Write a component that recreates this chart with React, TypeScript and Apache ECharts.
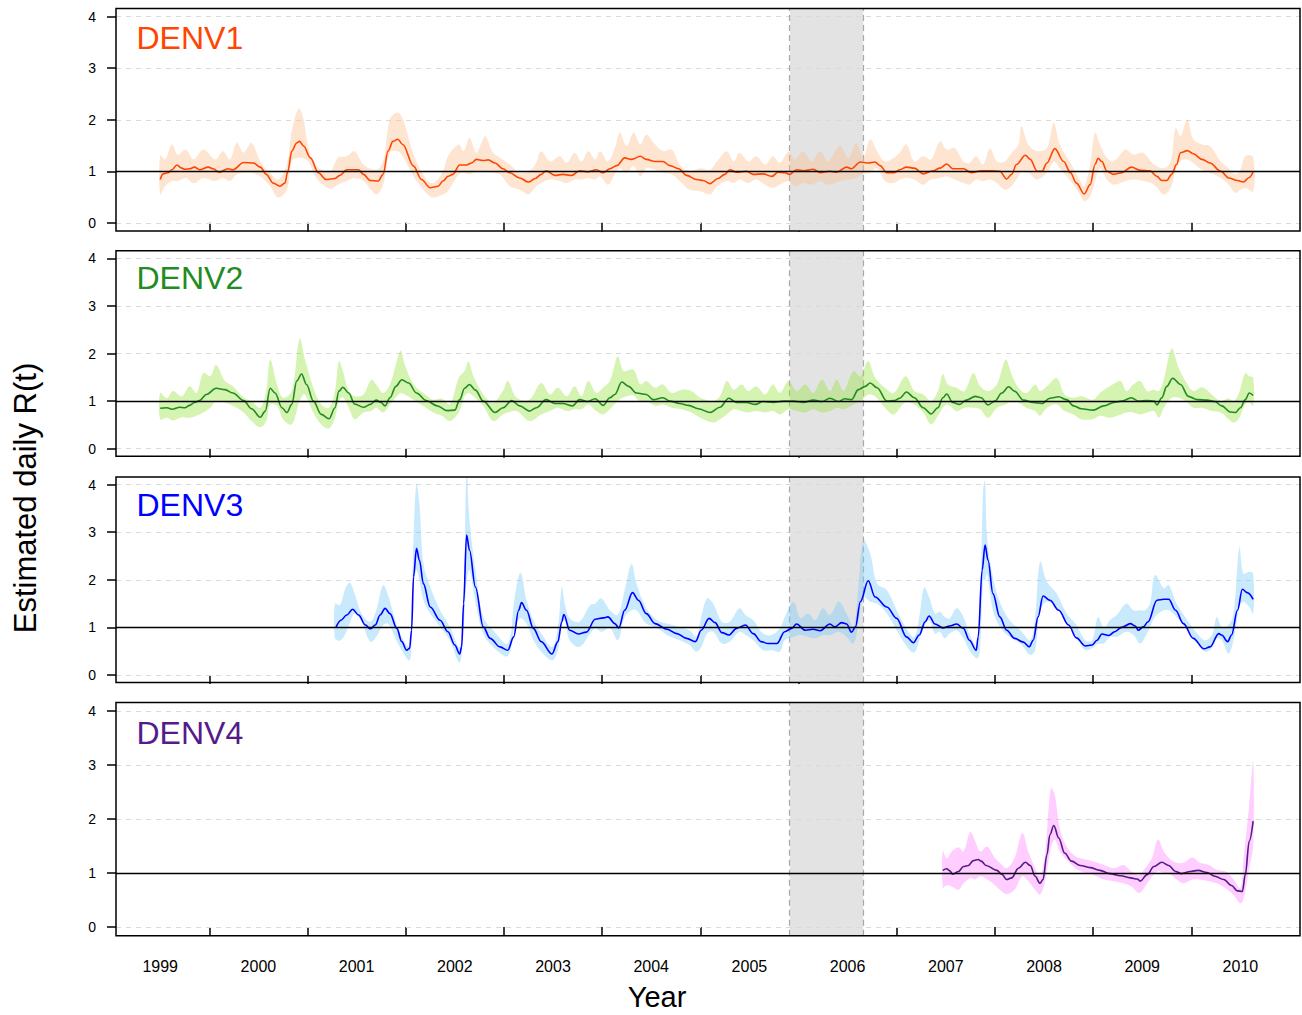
import React, { useEffect, useRef } from "react";
import * as echarts from "echarts";

type Pt = [number, number];
type Band = [number, number, number]; // [year, lower, upper]

// ---- axis values ----
const YEAR_TICKS = [2000, 2001, 2002, 2003, 2004, 2005, 2006, 2007, 2008, 2009, 2010];
const YEAR_LABEL_AT = [1999.5, 2000.5, 2001.5, 2002.5, 2003.5, 2004.5, 2005.5, 2006.5, 2007.5, 2008.5, 2009.5, 2010.5];
const R_TICKS = [0, 1, 2, 3, 4];
const R_GRID = [0, 2, 3, 4];
const THRESHOLD = 1;
const GAP_PERIOD: [number, number] = [2005.913, 2006.66];
const SEROTYPES = ["DENV1", "DENV2", "DENV3", "DENV4"];

// ---- DENV1 ----
const denv1Median: Pt[] = [
  [1999.50,0.84],[1999.53,0.95],[1999.58,0.97],[1999.62,1.03],[1999.67,1.12],[1999.72,1.06],[1999.75,1.04],[1999.80,1.05],[1999.85,1.08],[1999.90,1.03],[1999.99,1.08],[2000.04,1.05],[2000.10,0.98],[2000.19,1.05],[2000.24,1.03],[2000.35,1.17],[2000.45,1.16],[2000.52,1.08],[2000.58,0.94],[2000.65,0.77],[2000.72,0.71],[2000.77,0.77],[2000.80,1.00],[2000.84,1.39],[2000.89,1.55],[2000.92,1.58],[2000.96,1.49],[2001.03,1.26],[2001.11,0.97],[2001.19,0.84],[2001.28,0.86],[2001.33,0.92],[2001.40,1.03],[2001.47,1.03],[2001.52,1.03],[2001.57,0.94],[2001.64,0.82],[2001.72,0.81],[2001.77,0.94],[2001.82,1.39],[2001.87,1.58],[2001.92,1.62],[2001.97,1.52],[2002.08,1.10],[2002.16,0.84],[2002.25,0.68],[2002.33,0.71],[2002.38,0.81],[2002.43,0.90],[2002.48,0.94],[2002.55,1.12],[2002.62,1.12],[2002.67,1.16],[2002.72,1.23],[2002.79,1.21],[2002.84,1.22],[2002.91,1.16],[2002.99,1.05],[2003.06,0.97],[2003.16,0.87],[2003.25,0.79],[2003.32,0.86],[2003.38,0.94],[2003.43,1.01],[2003.52,0.92],[2003.60,0.94],[2003.69,0.92],[2003.77,1.01],[2003.86,0.99],[2003.94,1.03],[2004.01,0.97],[2004.08,1.05],[2004.15,1.11],[2004.23,1.26],[2004.30,1.23],[2004.39,1.29],[2004.45,1.23],[2004.54,1.19],[2004.62,1.19],[2004.69,1.11],[2004.78,1.05],[2004.86,0.92],[2004.96,0.84],[2005.03,0.82],[2005.10,0.76],[2005.18,0.86],[2005.25,0.94],[2005.30,1.03],[2005.37,0.98],[2005.47,1.00],[2005.54,0.94],[2005.64,0.95],[2005.73,0.90],[2005.79,0.98],[2005.86,0.97],[2005.91,0.94],[2005.98,1.03],[2006.05,1.01],[2006.15,1.04],[2006.22,0.97],[2006.32,1.00],[2006.39,0.98],[2006.49,1.08],[2006.54,1.05],[2006.63,1.18],[2006.71,1.16],[2006.78,1.18],[2006.83,1.11],[2006.90,0.97],[2006.97,0.97],[2007.03,1.03],[2007.10,1.08],[2007.18,1.06],[2007.27,0.95],[2007.37,1.01],[2007.44,1.06],[2007.51,1.14],[2007.57,1.05],[2007.68,1.05],[2007.76,0.97],[2007.86,1.01],[2007.97,1.01],[2008.05,1.00],[2008.12,0.85],[2008.17,0.94],[2008.22,1.13],[2008.31,1.31],[2008.36,1.23],[2008.43,1.00],[2008.48,1.00],[2008.53,1.16],[2008.61,1.44],[2008.70,1.19],[2008.77,0.97],[2008.83,0.77],[2008.91,0.56],[2008.97,0.74],[2009.02,1.13],[2009.05,1.25],[2009.09,1.19],[2009.14,1.00],[2009.21,0.94],[2009.29,0.97],[2009.39,1.08],[2009.48,1.02],[2009.58,1.01],[2009.65,0.90],[2009.70,0.82],[2009.75,0.82],[2009.80,0.94],[2009.85,1.13],[2009.89,1.36],[2009.96,1.40],[2010.02,1.34],[2010.11,1.23],[2010.19,1.16],[2010.30,1.00],[2010.38,0.87],[2010.47,0.82],[2010.53,0.79],[2010.59,0.88],[2010.63,0.99],
];
const denv1Band: Band[] = [
  [1999.50,0.55,1.31],[1999.55,0.71,1.23],[1999.62,0.81,1.52],[1999.68,0.81,1.32],[1999.76,0.87,1.42],[1999.84,0.77,1.23],[1999.94,0.87,1.42],[2000.06,0.81,1.23],[2000.14,0.87,1.39],[2000.21,0.81,1.23],[2000.28,0.94,1.55],[2000.35,0.97,1.36],[2000.43,0.97,1.55],[2000.52,0.90,1.19],[2000.62,0.71,0.97],[2000.70,0.49,0.84],[2000.79,0.64,1.13],[2000.84,1.19,1.78],[2000.91,1.26,2.22],[2000.96,1.25,2.01],[2001.01,1.19,1.45],[2001.09,0.87,1.10],[2001.23,0.66,1.00],[2001.31,0.74,1.26],[2001.40,0.81,1.29],[2001.48,0.87,1.39],[2001.57,0.81,1.13],[2001.70,0.55,1.03],[2001.77,0.74,1.19],[2001.84,1.36,2.01],[2001.92,1.39,2.14],[2001.98,1.26,1.97],[2002.08,0.90,1.32],[2002.21,0.58,0.84],[2002.28,0.49,0.77],[2002.38,0.55,1.00],[2002.43,0.61,1.29],[2002.54,0.94,1.52],[2002.59,0.97,1.39],[2002.65,0.94,1.65],[2002.72,1.00,1.36],[2002.81,1.00,1.68],[2002.88,0.97,1.39],[2002.96,0.94,1.26],[2003.06,0.71,1.13],[2003.16,0.64,0.97],[2003.25,0.55,1.00],[2003.32,0.69,1.13],[2003.38,0.77,1.39],[2003.47,0.84,1.19],[2003.57,0.81,1.29],[2003.64,0.77,1.16],[2003.72,0.84,1.36],[2003.79,0.84,1.19],[2003.86,0.87,1.39],[2003.93,0.84,1.23],[2003.98,0.90,1.39],[2004.06,0.74,1.19],[2004.13,0.94,1.45],[2004.18,1.06,1.75],[2004.25,0.97,1.49],[2004.32,1.10,1.75],[2004.39,0.90,1.52],[2004.45,1.06,1.71],[2004.54,1.03,1.52],[2004.62,0.97,1.39],[2004.71,0.94,1.42],[2004.79,0.81,1.13],[2004.89,0.64,1.00],[2005.00,0.61,1.06],[2005.10,0.55,1.03],[2005.17,0.71,1.19],[2005.27,0.81,1.39],[2005.34,0.77,1.19],[2005.40,0.84,1.36],[2005.49,0.77,1.19],[2005.57,0.84,1.29],[2005.66,0.74,1.13],[2005.74,0.68,1.29],[2005.81,0.74,1.16],[2005.90,0.81,1.39],[2005.96,0.71,1.23],[2006.05,0.77,1.39],[2006.13,0.74,1.19],[2006.22,0.81,1.39],[2006.30,0.74,1.19],[2006.42,0.81,1.49],[2006.51,0.84,1.26],[2006.59,0.87,1.55],[2006.66,0.94,1.26],[2006.73,0.97,1.62],[2006.80,1.06,1.39],[2006.88,0.81,1.19],[2006.97,0.77,1.26],[2007.03,0.84,1.36],[2007.10,0.87,1.52],[2007.18,0.84,1.19],[2007.27,0.74,1.29],[2007.35,0.84,1.23],[2007.44,0.87,1.58],[2007.51,0.90,1.42],[2007.59,0.84,1.45],[2007.68,0.77,1.19],[2007.74,0.74,1.16],[2007.81,0.84,1.29],[2007.88,0.81,1.13],[2007.95,0.84,1.44],[2008.02,0.77,1.19],[2008.10,0.64,1.19],[2008.17,0.71,1.36],[2008.24,0.90,1.52],[2008.27,1.00,1.88],[2008.34,0.97,1.52],[2008.43,0.84,1.39],[2008.53,0.97,1.45],[2008.60,1.19,1.94],[2008.66,1.06,1.52],[2008.77,0.81,1.16],[2008.87,0.55,0.81],[2008.91,0.42,0.71],[2008.97,0.51,1.13],[2009.02,0.81,1.75],[2009.07,1.06,1.52],[2009.14,0.84,1.26],[2009.21,0.74,1.19],[2009.33,0.81,1.42],[2009.41,0.84,1.32],[2009.51,0.81,1.36],[2009.62,0.74,1.13],[2009.72,0.55,1.06],[2009.79,0.68,1.19],[2009.84,1.00,1.84],[2009.89,1.19,1.68],[2009.96,1.23,2.01],[2010.02,1.16,1.62],[2010.11,1.03,1.52],[2010.19,0.97,1.49],[2010.30,0.87,1.19],[2010.38,0.74,1.06],[2010.45,0.58,0.94],[2010.50,0.64,1.03],[2010.55,0.68,1.29],[2010.63,0.61,1.27],
];

// ---- DENV2 ----
const denv2Median: Pt[] = [
  [1999.50,0.85],[1999.57,0.86],[1999.62,0.83],[1999.70,0.87],[1999.75,0.86],[1999.80,0.91],[1999.85,0.97],[1999.90,1.01],[1999.97,1.14],[2000.07,1.27],[2000.16,1.24],[2000.24,1.17],[2000.35,1.01],[2000.43,0.84],[2000.52,0.66],[2000.57,0.79],[2000.62,1.27],[2000.67,1.17],[2000.74,0.86],[2000.79,0.76],[2000.84,0.93],[2000.89,1.42],[2000.94,1.57],[2000.99,1.35],[2001.06,1.00],[2001.14,0.72],[2001.22,0.63],[2001.28,0.86],[2001.32,1.21],[2001.36,1.29],[2001.42,1.17],[2001.48,0.94],[2001.57,0.87],[2001.64,0.93],[2001.70,1.02],[2001.75,0.97],[2001.79,0.90],[2001.84,1.07],[2001.90,1.31],[2001.96,1.45],[2002.03,1.38],[2002.11,1.17],[2002.21,1.01],[2002.32,0.90],[2002.42,0.80],[2002.50,0.81],[2002.55,1.03],[2002.60,1.27],[2002.65,1.35],[2002.71,1.23],[2002.79,1.00],[2002.91,0.76],[2002.99,0.86],[2003.08,1.01],[2003.16,0.90],[2003.26,0.79],[2003.33,0.86],[2003.43,1.03],[2003.52,0.95],[2003.60,0.95],[2003.70,0.90],[2003.77,1.03],[2003.85,0.99],[2003.93,1.05],[2004.01,0.91],[2004.08,1.07],[2004.13,1.14],[2004.20,1.40],[2004.27,1.31],[2004.35,1.17],[2004.45,1.14],[2004.52,1.03],[2004.62,1.07],[2004.69,1.00],[2004.79,0.95],[2004.88,0.91],[2004.98,0.84],[2005.10,0.76],[2005.20,0.87],[2005.29,1.06],[2005.37,0.97],[2005.47,0.97],[2005.56,0.93],[2005.64,0.99],[2005.74,0.97],[2005.85,1.00],[2005.95,1.00],[2006.05,0.97],[2006.15,1.02],[2006.24,0.99],[2006.32,1.06],[2006.41,0.99],[2006.47,1.05],[2006.54,1.03],[2006.61,1.24],[2006.68,1.31],[2006.73,1.38],[2006.80,1.28],[2006.90,1.00],[2006.98,1.01],[2007.03,1.06],[2007.10,1.19],[2007.18,1.07],[2007.27,0.86],[2007.35,0.73],[2007.42,0.86],[2007.47,1.07],[2007.51,1.15],[2007.57,0.97],[2007.64,0.93],[2007.71,1.02],[2007.80,1.10],[2007.86,1.07],[2007.93,0.92],[2008.00,1.00],[2008.07,1.17],[2008.14,1.30],[2008.20,1.21],[2008.29,1.02],[2008.39,0.97],[2008.48,0.95],[2008.56,1.06],[2008.65,1.09],[2008.73,1.03],[2008.80,0.90],[2008.88,0.84],[2009.00,0.81],[2009.11,0.90],[2009.21,0.97],[2009.29,1.00],[2009.39,1.07],[2009.46,1.00],[2009.55,1.01],[2009.62,1.00],[2009.65,0.92],[2009.70,1.07],[2009.75,1.31],[2009.81,1.48],[2009.89,1.35],[2009.97,1.10],[2010.06,1.03],[2010.16,1.02],[2010.24,0.99],[2010.31,0.90],[2010.40,0.77],[2010.45,0.76],[2010.50,0.86],[2010.55,1.03],[2010.59,1.17],[2010.63,1.12],
];
const denv2Band: Band[] = [
  [1999.50,0.62,1.17],[1999.57,0.65,1.06],[1999.63,0.59,1.21],[1999.72,0.66,1.10],[1999.80,0.65,1.31],[1999.87,0.69,1.17],[1999.94,0.76,1.59],[2000.01,0.86,1.52],[2000.07,1.00,1.76],[2000.16,0.97,1.42],[2000.24,0.90,1.31],[2000.35,0.76,1.07],[2000.43,0.58,1.00],[2000.52,0.45,0.86],[2000.58,0.58,1.21],[2000.62,0.93,1.87],[2000.69,0.90,1.35],[2000.75,0.62,1.07],[2000.84,0.51,1.21],[2000.92,1.00,2.31],[2000.97,1.14,1.91],[2001.06,0.76,1.28],[2001.14,0.51,0.93],[2001.22,0.43,0.86],[2001.28,0.65,1.21],[2001.32,1.00,1.84],[2001.36,1.08,1.63],[2001.42,0.86,1.21],[2001.48,0.62,1.10],[2001.57,0.76,1.14],[2001.65,0.79,1.45],[2001.70,0.86,1.35],[2001.77,0.76,1.17],[2001.84,0.93,1.35],[2001.91,1.10,1.84],[2001.95,1.17,2.06],[2001.99,1.14,1.77],[2002.08,1.03,1.35],[2002.20,0.87,1.14],[2002.28,0.76,1.03],[2002.37,0.69,1.05],[2002.45,0.58,0.93],[2002.54,0.76,1.49],[2002.60,1.10,1.63],[2002.64,1.17,1.83],[2002.69,1.10,1.52],[2002.79,0.90,1.14],[2002.89,0.58,0.97],[2002.99,0.72,1.21],
  [2003.04,0.76,1.42],[2003.13,0.79,1.07],[2003.26,0.58,1.03],[2003.38,0.72,1.38],[2003.47,0.79,1.14],[2003.55,0.86,1.28],[2003.64,0.79,1.10],[2003.72,0.83,1.31],[2003.79,0.83,1.10],[2003.86,0.93,1.42],[2003.94,0.79,1.17],[2004.01,0.72,1.28],[2004.08,0.83,1.42],[2004.16,1.00,1.94],[2004.22,1.08,1.63],[2004.32,1.12,1.66],[2004.39,0.98,1.35],[2004.45,1.00,1.42],[2004.54,0.90,1.28],[2004.62,0.93,1.35],[2004.71,0.86,1.17],[2004.81,0.83,1.24],[2004.91,0.76,1.21],[2005.00,0.65,1.07],[2005.13,0.55,1.00],[2005.20,0.62,1.10],[2005.27,0.72,1.42],[2005.34,0.83,1.24],[2005.42,0.79,1.35],[2005.49,0.76,1.21],[2005.57,0.79,1.31],[2005.66,0.76,1.14],[2005.74,0.79,1.35],[2005.81,0.72,1.17],[2005.90,0.83,1.42],[2005.98,0.79,1.21],[2006.07,0.76,1.35],[2006.15,0.83,1.17],[2006.24,0.76,1.45],[2006.32,0.79,1.21],[2006.39,0.86,1.45],[2006.46,0.83,1.21],[2006.56,0.93,1.63],[2006.63,1.00,1.52],[2006.71,1.14,1.84],[2006.78,1.10,1.49],[2006.88,0.86,1.28],[2006.97,0.72,1.17],[2007.09,0.98,1.52],
  [2007.18,0.93,1.21],[2007.27,0.76,1.14],[2007.35,0.51,1.00],[2007.42,0.69,1.21],[2007.47,0.86,1.57],[2007.52,0.93,1.35],[2007.61,0.79,1.28],[2007.69,0.86,1.21],[2007.78,0.86,1.59],[2007.85,0.83,1.31],[2007.93,0.65,1.21],[2008.02,0.86,1.35],[2008.11,0.93,1.87],[2008.17,1.00,1.56],[2008.24,0.97,1.28],[2008.32,0.86,1.17],[2008.41,0.79,1.35],[2008.46,0.69,1.21],[2008.53,0.86,1.31],[2008.63,0.93,1.48],[2008.71,0.79,1.14],[2008.80,0.72,1.07],[2008.88,0.62,1.10],[2009.00,0.62,1.03],[2009.07,0.69,1.17],[2009.17,0.65,1.31],[2009.28,0.72,1.42],[2009.34,0.76,1.21],[2009.41,0.76,1.35],[2009.48,0.72,1.42],[2009.55,0.76,1.21],[2009.62,0.79,1.24],[2009.67,0.65,1.21],[2009.72,0.86,1.45],[2009.80,1.07,2.10],[2009.87,1.07,1.70],[2009.94,1.00,1.42],[2010.02,0.86,1.21],[2010.11,0.86,1.29],[2010.21,0.79,1.14],[2010.30,0.76,1.00],[2010.38,0.62,1.06],[2010.43,0.55,1.00],[2010.48,0.62,1.14],[2010.55,0.93,1.59],[2010.59,0.97,1.52],[2010.63,0.90,1.49],
];

// ---- DENV3 ----
const denv3Median: Pt[] = [
  [2001.29,1.00],[2001.34,1.15],[2001.40,1.26],[2001.46,1.38],[2001.52,1.26],[2001.59,1.05],[2001.64,0.97],[2001.69,1.05],[2001.74,1.26],[2001.79,1.40],[2001.84,1.29],[2001.91,0.98],[2001.96,0.70],[2002.01,0.52],[2002.04,0.56],[2002.06,0.94],[2002.08,2.06],[2002.11,2.66],[2002.14,2.41],[2002.18,1.92],[2002.25,1.43],[2002.35,1.15],[2002.43,0.91],[2002.50,0.63],[2002.55,0.44],[2002.57,0.59],[2002.59,1.50],[2002.62,2.94],[2002.65,2.62],[2002.71,1.85],[2002.79,1.01],[2002.86,0.77],[2002.96,0.59],[2003.04,0.52],[2003.10,0.80],[2003.15,1.36],[2003.18,1.52],[2003.23,1.36],[2003.30,0.98],[2003.38,0.70],[2003.49,0.44],[2003.55,0.70],[2003.59,1.12],[2003.61,1.27],[2003.67,0.94],[2003.76,0.86],[2003.84,0.90],[2003.93,1.17],[2004.01,1.20],[2004.06,1.22],[2004.13,1.08],[2004.17,0.99],[2004.23,1.36],[2004.31,1.73],[2004.37,1.57],[2004.45,1.29],[2004.54,1.08],[2004.66,0.96],[2004.76,0.87],[2004.86,0.77],[2004.95,0.70],[2005.01,0.94],[2005.09,1.19],[2005.15,1.10],[2005.22,0.89],[2005.29,0.84],[2005.37,0.98],[2005.46,1.05],[2005.54,0.87],[2005.62,0.70],[2005.69,0.66],[2005.78,0.66],[2005.86,0.91],[2005.93,0.98],[2005.98,1.07],[2006.07,0.94],[2006.15,0.96],[2006.22,0.93],[2006.32,1.07],[2006.37,1.01],[2006.44,1.10],[2006.49,1.07],[2006.54,0.90],[2006.58,1.01],[2006.63,1.54],[2006.71,1.98],[2006.78,1.64],[2006.90,1.43],[2007.00,1.19],[2007.10,0.80],[2007.17,0.68],[2007.23,0.84],[2007.29,1.12],[2007.33,1.24],[2007.39,1.07],[2007.47,0.99],[2007.54,1.03],[2007.61,1.07],[2007.68,0.98],[2007.74,0.73],[2007.81,0.52],[2007.83,0.80],[2007.87,2.20],[2007.90,2.73],[2007.93,2.41],[2007.98,1.71],[2008.05,1.22],[2008.12,0.94],[2008.20,0.77],[2008.29,0.69],[2008.35,0.59],[2008.39,0.73],[2008.44,1.22],[2008.49,1.66],[2008.56,1.57],[2008.65,1.36],[2008.75,1.05],[2008.83,0.78],[2008.92,0.61],[2008.99,0.63],[2009.04,0.73],[2009.09,0.86],[2009.16,0.83],[2009.22,0.91],[2009.29,1.00],[2009.38,1.08],[2009.43,1.03],[2009.46,0.94],[2009.51,1.01],[2009.56,1.12],[2009.65,1.57],[2009.72,1.59],[2009.77,1.59],[2009.84,1.36],[2009.92,1.08],[2010.02,0.77],[2010.13,0.55],[2010.19,0.59],[2010.28,0.87],[2010.31,0.84],[2010.37,0.70],[2010.41,0.84],[2010.47,1.36],[2010.52,1.80],[2010.57,1.73],[2010.63,1.59],
];
const denv3Band: Band[] = [
  [2001.28,0.77,1.50],[2001.33,0.72,1.47],[2001.38,0.84,1.78],[2001.43,1.08,1.94],[2001.48,1.29,1.71],[2001.55,1.12,1.29],[2001.64,0.70,1.12],[2001.70,0.80,1.36],[2001.77,1.05,1.89],[2001.82,1.08,1.68],[2001.89,0.80,1.19],[2001.96,0.52,0.80],[2002.04,0.31,0.59],[2002.06,0.80,1.36],[2002.08,1.92,2.90],[2002.11,2.20,4.02],[2002.14,1.99,3.60],[2002.18,1.57,2.34],[2002.25,1.29,1.85],[2002.35,1.01,1.36],[2002.45,0.73,1.01],[2002.55,0.26,0.59],[2002.59,1.01,1.64],[2002.62,1.96,4.30],[2002.65,2.20,3.25],[2002.71,1.54,2.20],[2002.79,0.87,1.22],[2002.89,0.59,0.94],[2003.04,0.40,0.66],
  [2003.11,1.01,1.64],[2003.17,1.19,2.15],[2003.23,1.08,1.57],[2003.30,0.73,1.15],[2003.38,0.49,0.87],[2003.49,0.31,0.59],[2003.55,0.52,1.01],[2003.59,1.08,1.85],[2003.62,1.15,1.50],[2003.67,0.73,1.19],[2003.77,0.59,1.12],[2003.88,0.87,1.47],[2003.93,0.98,1.50],[2003.99,0.91,1.61],[2004.08,0.98,1.36],[2004.16,0.73,1.26],[2004.23,1.22,1.78],[2004.30,1.36,2.33],[2004.35,1.36,1.92],[2004.45,1.08,1.40],[2004.56,0.98,1.15],[2004.66,0.84,1.08],[2004.79,0.73,1.01],[2004.89,0.63,0.94],[2004.96,0.49,0.80],[2005.01,0.59,1.22],[2005.07,0.87,1.61],[2005.13,0.91,1.50],[2005.22,0.66,1.12],[2005.30,0.70,1.12],[2005.40,0.91,1.40],[2005.46,0.84,1.26],[2005.54,0.73,1.15],[2005.64,0.52,0.87],[2005.73,0.52,0.84],[2005.81,0.49,0.98],[2005.86,0.73,1.22],[2005.95,0.80,1.54],[2006.02,0.84,1.19],[2006.10,0.80,1.29],[2006.17,0.77,1.15],[2006.25,0.84,1.40],[2006.32,0.84,1.26],[2006.41,0.91,1.54],[2006.49,0.80,1.29],[2006.56,0.66,1.01],[2006.61,1.08,1.85],[2006.66,1.64,2.83],[2006.73,1.54,2.55],[2006.80,1.50,1.92],[2006.90,1.29,1.78],[2007.00,0.94,1.36],[2007.11,0.58,0.94],
  [2007.18,0.47,0.80],[2007.23,0.73,1.22],[2007.28,1.01,1.84],[2007.33,1.15,1.64],[2007.39,0.87,1.29],[2007.44,0.91,1.33],[2007.49,0.77,1.22],[2007.54,0.87,1.19],[2007.61,0.94,1.40],[2007.68,0.77,1.22],[2007.74,0.52,0.87],[2007.82,0.35,0.59],[2007.85,0.59,1.50],[2007.88,1.99,3.88],[2007.90,1.99,4.09],[2007.92,2.13,2.90],[2007.98,1.36,2.06],[2008.05,1.01,1.54],[2008.15,0.80,1.15],[2008.26,0.66,0.94],[2008.36,0.42,0.73],[2008.41,0.52,1.22],[2008.46,1.36,2.38],[2008.53,1.54,1.96],[2008.63,1.43,1.71],[2008.73,1.12,1.29],[2008.83,0.80,1.05],[2008.92,0.52,0.73],[2008.99,0.56,0.73],[2009.05,0.66,1.22],[2009.11,0.66,0.98],[2009.17,0.80,1.15],[2009.24,0.80,1.26],[2009.34,0.91,1.50],[2009.41,0.84,1.36],[2009.48,0.66,1.36],[2009.53,0.80,1.36],[2009.58,1.01,1.50],[2009.63,1.22,2.10],[2009.72,1.36,1.82],[2009.77,1.36,1.89],[2009.85,1.22,1.50],[2009.96,0.94,1.15],[2010.06,0.66,0.87],[2010.14,0.49,0.73],[2010.21,0.56,0.84],[2010.26,0.77,1.22],[2010.31,0.73,1.01],[2010.38,0.45,1.05],[2010.43,0.73,1.29],[2010.49,1.43,2.69],[2010.53,1.54,2.13],[2010.59,1.43,2.17],[2010.63,1.29,2.13],
];

// ---- DENV4 ----
const denv4Median: Pt[] = [
  [2007.47,1.05],[2007.51,1.08],[2007.54,1.04],[2007.57,0.98],[2007.63,1.03],[2007.68,1.12],[2007.73,1.14],[2007.78,1.23],[2007.83,1.25],[2007.86,1.22],[2007.91,1.14],[2008.02,1.05],[2008.07,0.98],[2008.12,0.88],[2008.17,0.91],[2008.24,1.09],[2008.31,1.20],[2008.36,1.14],[2008.41,0.94],[2008.46,0.81],[2008.49,0.88],[2008.53,1.34],[2008.56,1.71],[2008.60,1.88],[2008.65,1.65],[2008.71,1.37],[2008.78,1.22],[2008.87,1.14],[2008.97,1.10],[2009.07,1.05],[2009.17,0.99],[2009.28,0.95],[2009.38,0.91],[2009.45,0.89],[2009.48,0.85],[2009.55,0.97],[2009.62,1.12],[2009.70,1.20],[2009.77,1.14],[2009.84,1.03],[2009.90,0.99],[2009.99,1.03],[2010.07,1.05],[2010.16,1.01],[2010.24,0.94],[2010.33,0.88],[2010.41,0.77],[2010.47,0.67],[2010.52,0.66],[2010.55,0.97],[2010.59,1.59],[2010.63,1.96],
];
const denv4Band: Band[] = [
  [2007.47,0.73,1.41],[2007.51,0.78,1.27],[2007.56,0.75,1.40],[2007.63,0.69,1.48],[2007.68,0.81,1.40],[2007.75,0.91,1.76],[2007.80,0.88,1.59],[2007.85,0.94,1.40],[2007.92,0.88,1.49],[2008.00,0.78,1.28],[2008.05,0.69,1.19],[2008.12,0.61,1.09],[2008.20,0.69,1.28],[2008.28,0.94,1.74],[2008.34,0.85,1.40],[2008.41,0.69,1.09],[2008.46,0.60,0.94],[2008.51,0.85,1.34],[2008.57,1.46,2.57],[2008.61,1.62,2.45],[2008.66,1.40,1.83],[2008.73,1.25,1.49],[2008.82,1.09,1.31],[2008.92,1.00,1.25],[2009.00,0.97,1.22],[2009.11,0.88,1.15],[2009.21,0.85,1.09],[2009.31,0.81,1.15],[2009.39,0.75,1.03],[2009.47,0.63,0.97],[2009.53,0.75,1.09],[2009.60,0.94,1.28],[2009.66,1.03,1.62],[2009.72,1.00,1.40],[2009.79,0.97,1.25],[2009.85,0.88,1.19],[2009.92,0.81,1.19],[2010.01,0.88,1.29],[2010.09,0.88,1.19],[2010.18,0.85,1.15],[2010.26,0.81,1.06],[2010.35,0.72,1.03],[2010.43,0.60,0.88],[2010.50,0.44,0.72],[2010.53,0.51,1.22],[2010.59,1.09,2.27],[2010.63,1.52,3.07],
];

const MEDIANS = [denv1Median, denv2Median, denv3Median, denv4Median];
const BANDS = [denv1Band, denv2Band, denv3Band, denv4Band];

// ---- look ----
const FONT = '"Liberation Sans", Arial, Helvetica, sans-serif';
const X_RANGE: [number, number] = [1999.05, 2011.107];
const Y_RANGE: [number, number] = [-0.16, 4.16];
const PANEL_LEFT = 116;
const PANEL_WIDTH = 1184;
const PANELS = [
  { top: 8.5, height: 222.5, line: "#FF4500", fill: "rgba(250,190,140,0.4)", labelY: 38.3 },
  { top: 250.7, height: 205.6, line: "#228B22", fill: "rgba(150,225,60,0.4)", labelY: 278.3 },
  { top: 477, height: 205.6, line: "#0000FF", fill: "rgba(120,200,250,0.4)", labelY: 504.7 },
  { top: 702.4, height: 233.3, line: "#551A8B", fill: "rgba(255,130,255,0.4)", labelY: 733.3 },
];

function buildOption(): any {
  const last = PANELS.length - 1;
  const grid = PANELS.map((p) => ({
    left: PANEL_LEFT,
    width: PANEL_WIDTH,
    top: p.top,
    height: p.height,
    show: true,
    z: 10,
    backgroundColor: "rgba(0,0,0,0)",
    borderColor: "#000",
    borderWidth: 1.5,
  }));

  const xAxis = PANELS.map((_, i) => ({
    type: "value",
    gridIndex: i,
    min: X_RANGE[0],
    max: X_RANGE[1],
    axisLine: { show: false },
    splitLine: { show: false },
    axisTick: {
      show: true,
      inside: false,
      length: 9,
      customValues: YEAR_TICKS,
      lineStyle: { color: "#000", width: 1.5 },
    },
    axisLabel: {
      show: i === last,
      customValues: YEAR_LABEL_AT,
      formatter: (v: number) => String(Math.floor(v)),
      margin: 23,
      fontSize: 16,
      color: "#000",
      fontFamily: FONT,
    },
  }));

  const yAxis = PANELS.map((_, i) => ({
    type: "value",
    gridIndex: i,
    min: Y_RANGE[0],
    max: Y_RANGE[1],
    axisLine: { show: false },
    splitLine: { show: false },
    axisTick: {
      show: true,
      inside: false,
      length: 9,
      customValues: R_TICKS,
      lineStyle: { color: "#000", width: 1.5 },
    },
    axisLabel: {
      customValues: R_TICKS,
      formatter: (v: number) => String(v),
      margin: 20,
      fontSize: 14,
      color: "#000",
      fontFamily: FONT,
    },
  }));

  const series: any[] = [];
  PANELS.forEach((p, i) => {
    const band = BANDS[i];
    // shaded period + dashed reference grid
    series.push({
      type: "line",
      xAxisIndex: i,
      yAxisIndex: i,
      data: [],
      silent: true,
      markArea: {
        silent: true,
        z: 1,
        itemStyle: { color: "#E3E3E3" },
        data: [[{ xAxis: GAP_PERIOD[0] }, { xAxis: GAP_PERIOD[1] }]],
      },
      markLine: {
        silent: true,
        z: 2,
        symbol: ["none", "none"],
        label: { show: false },
        emphasis: { disabled: true },
        data: [
          ...R_GRID.map((v) => ({
            yAxis: v,
            lineStyle: { color: "#DADADA", type: [5, 5], width: 1 },
          })),
          ...GAP_PERIOD.map((v) => ({
            xAxis: v,
            lineStyle: { color: "#A8A8A8", type: [6, 4], width: 1.2 },
          })),
        ],
      },
    });
    // credible band
    series.push({
      type: "custom",
      xAxisIndex: i,
      yAxisIndex: i,
      z: 3,
      clip: true,
      silent: true,
      data: band,
      encode: { x: 0, y: [1, 2] },
      renderItem: (params: any, api: any) => {
        if (params.dataIndex !== 0) return null;
        const upper = band.map((d) => api.coord([d[0], d[2]]));
        const lower = band.map((d) => api.coord([d[0], d[1]])).reverse();
        return {
          type: "polygon",
          shape: { points: upper.concat(lower), smooth: 0.35 },
          style: { fill: p.fill, stroke: "none" },
        };
      },
    });
    // median R(t)
    series.push({
      type: "line",
      xAxisIndex: i,
      yAxisIndex: i,
      z: 4,
      silent: true,
      data: MEDIANS[i],
      showSymbol: false,
      smooth: 0.35,
      smoothMonotone: "x",
      lineStyle: { color: p.line, width: 1.6 },
    });
    // R = 1 threshold
    series.push({
      type: "line",
      xAxisIndex: i,
      yAxisIndex: i,
      data: [],
      silent: true,
      markLine: {
        silent: true,
        z: 6,
        symbol: ["none", "none"],
        label: { show: false },
        emphasis: { disabled: true },
        lineStyle: { color: "#000", type: "solid", width: 1.3 },
        data: [{ yAxis: THRESHOLD }],
      },
    });
  });

  const graphic: any[] = PANELS.map((p, i) => ({
    type: "text",
    x: 136.5,
    y: p.labelY,
    z: 20,
    silent: true,
    style: {
      text: SEROTYPES[i],
      fill: p.line,
      fontSize: 32,
      fontFamily: FONT,
      textAlign: "left",
      textVerticalAlign: "middle",
    },
  }));
  graphic.push({
    type: "text",
    x: 657,
    y: 997,
    silent: true,
    style: {
      text: "Year",
      fill: "#000",
      fontSize: 29,
      fontFamily: FONT,
      textAlign: "center",
      textVerticalAlign: "middle",
    },
  });
  graphic.push({
    type: "text",
    x: 25,
    y: 498,
    rotation: Math.PI / 2,
    silent: true,
    style: {
      text: "Estimated daily R(t)",
      fill: "#000",
      fontSize: 31,
      fontFamily: FONT,
      textAlign: "center",
      textVerticalAlign: "middle",
    },
  });

  return {
    animation: false,
    backgroundColor: "#fff",
    textStyle: { fontFamily: FONT },
    grid,
    xAxis,
    yAxis,
    series,
    graphic,
  };
}

export default function App() {
  const ref = useRef<HTMLDivElement>(null);
  useEffect(() => {
    if (!ref.current) return;
    const chart = echarts.init(ref.current, undefined, { renderer: "svg" });
    chart.setOption(buildOption());
    return () => chart.dispose();
  }, []);
  return (
    <div
      ref={ref}
      style={{ position: "fixed", left: 0, top: 0, width: 1302, height: 1015, background: "#fff" }}
    />
  );
}
